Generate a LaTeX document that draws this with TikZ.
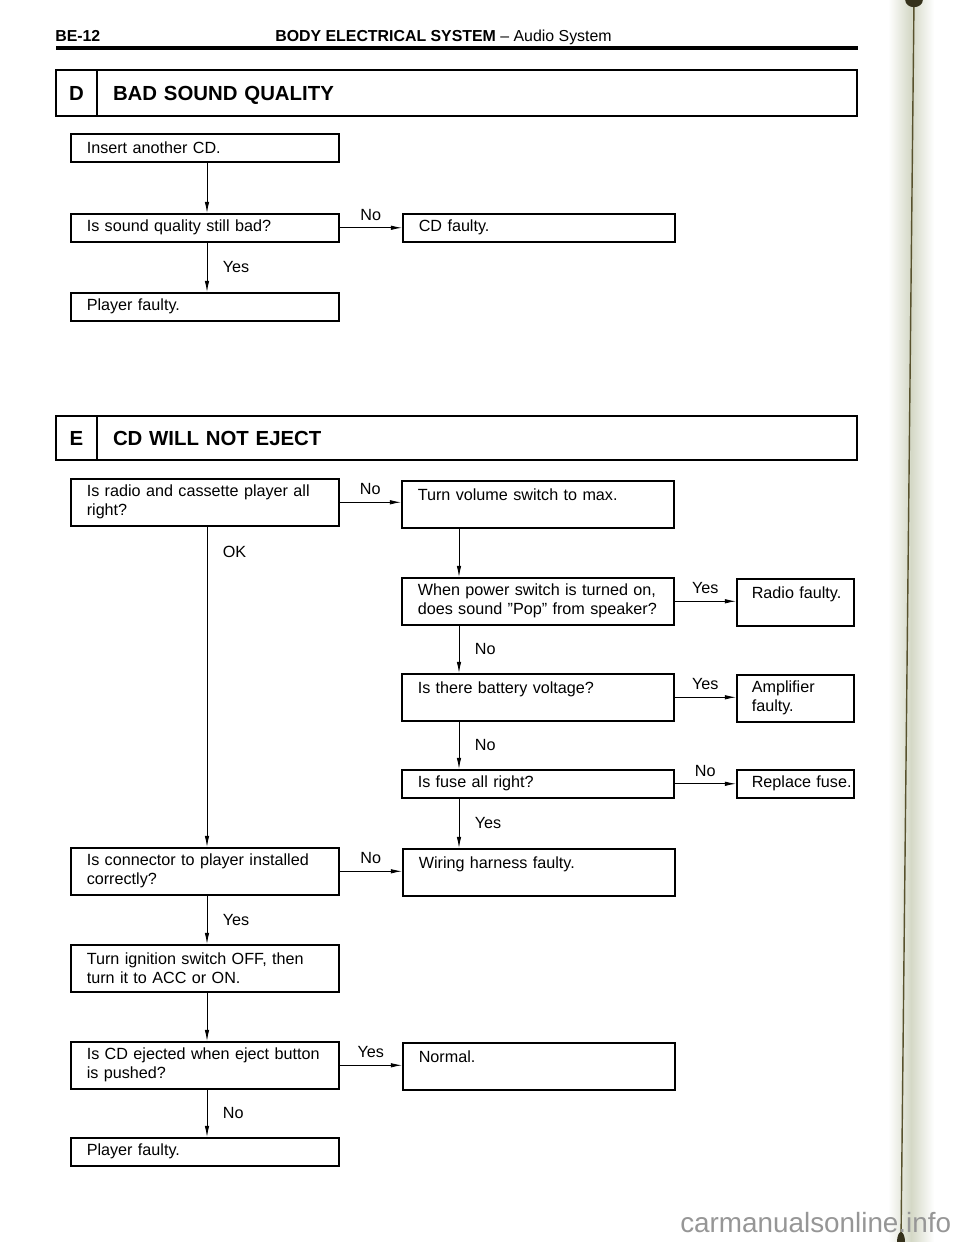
\documentclass[tikz,border=0pt]{standalone}
\usepackage{fontspec}
\setmainfont{Liberation Sans}
\usepackage{tikz}
\usetikzlibrary{arrows.meta, positioning}
\definecolor{fold}{RGB}{212,216,198}
\definecolor{foldline}{RGB}{88,82,45}
\definecolor{wmark}{RGB}{150,150,150}

\begin{document}
\begin{tikzpicture}[
  x=0.025cm, y=-0.025cm,
  box/.style={draw, line width=1.1pt, align=left, inner xsep=0.4cm, anchor=north west, font=\fontsize{11.5}{13.5}\selectfont},
  lbox/.style={box, text width=5.9cm},
  mbox/.style={box, text width=6.0cm},
  rbox/.style={box, inner xsep=0.375cm, text width=2.175cm},
  onerow/.style={minimum height=0.7cm},
  tworow/.style={minimum height=1.175cm},
  cell/.style={draw, line width=1.1pt, outer sep=0pt, minimum height=1.15cm, text height=10.5pt, text depth=0pt, anchor=north west, font=\fontsize{14.5}{17}\selectfont\bfseries},
  titlebar/.style={align=left, inner xsep=0.4cm, text width=18.2cm},
  arr/.style={-{Latex[length=8pt,width=3.2pt]}, line width=0.6pt},
  lbl/.style={font=\fontsize{11.5}{13.5}\selectfont, inner sep=2pt},
  hdr/.style={font=\fontsize{11.3}{13}\selectfont\bfseries, anchor=base west, inner sep=0pt},
  wmk/.style={font=\fontsize{19.8}{22}\selectfont, text=wmark, anchor=base west, inner sep=0pt}
]
\useasboundingbox (0,0) rectangle (960,1242);

% --- page header ---
\node[hdr] (pageno) at (55,42) {BE-12};
\node[hdr] (pagehead) at (275,42) {BODY ELECTRICAL SYSTEM \textmd{-- Audio System}};
\draw[line width=2.2pt] (56,48) -- (858,48);

% --- spines for the vertical connectors ---
\coordinate (lspine) at (207,0);
\coordinate (mspine) at (459,0);

% --- D: bad sound quality ---
\node[cell, minimum width=1.025cm] (dcell) at (56,70) {D};
\node[cell, titlebar] (dtitle) at (dcell.north east) {BAD SOUND QUALITY};

\node[lbox, onerow] (dinsert) at (70,133) {Insert another CD.};
\node[lbox, onerow] (dsound) at (70,213) {Is sound quality still bad?};
\node[mbox, onerow] (dcd) at (402,213) {CD faulty.};
\node[lbox, onerow] (dplayer) at (70,292) {Player faulty.};

\draw[arr] (dinsert.south -| lspine) -- (dsound.north -| lspine);
\draw[arr] (dsound.east) -- node[lbl, above=3pt]{No} (dsound.east -| dcd.west);
\draw[arr] (dsound.south -| lspine) -- node[lbl, right=9pt]{Yes} (dplayer.north -| lspine);

% --- E: CD will not eject ---
\node[cell, minimum width=1.025cm, minimum height=1.1cm] (ecell) at (56,416) {E};
\node[cell, titlebar, minimum height=1.1cm] (etitle) at (ecell.north east) {CD WILL NOT EJECT};

\node[lbox, tworow] (eradio) at (70,478) {Is radio and cassette player all\\right?};
\node[mbox, tworow] (evolume) at (401,480) {Turn volume switch to max.\\\mbox{}};
\node[mbox, tworow] (epower) at (401,577) {When power switch is turned on,\\does sound ''Pop'' from speaker?};
\node[rbox, tworow] (eradiofaulty) at (736,578) {\mbox{Radio faulty.}\\\mbox{}};
\node[mbox, tworow] (ebattery) at (401,673) {Is there battery voltage?\\\mbox{}};
\node[rbox, tworow] (eamp) at (736,674) {Amplifier\\faulty.};
\node[mbox, onerow] (efuse) at (401,769) {Is fuse all right?};
\node[rbox, onerow] (efuseout) at (736,769) {\mbox{Replace fuse.}};
\node[lbox, tworow] (econn) at (70,847) {Is connector to player installed\\correctly?};
\node[mbox, tworow] (ewiring) at (402,848) {Wiring harness faulty.\\\mbox{}};
\node[lbox, tworow] (eignition) at (70,944) {Turn ignition switch OFF, then\\turn it to ACC or ON.};
\node[lbox, tworow] (eeject) at (70,1041) {Is CD ejected when eject button\\is pushed?};
\node[mbox, tworow] (enormal) at (402,1042) {Normal.\\\mbox{}};
\node[lbox, onerow] (eplayer) at (70,1137) {Player faulty.};

% radio / volume branch
\draw[arr] (eradio.east) -- node[lbl, above=3pt]{No} (eradio.east -| evolume.west);
\draw[arr] (evolume.south -| mspine) -- (epower.north -| mspine);
\draw[arr] (epower.east) -- node[lbl, above=3pt]{Yes} (epower.east -| eradiofaulty.west);
\draw[arr] (epower.south -| mspine) -- node[lbl, right=9pt]{No} (ebattery.north -| mspine);
\draw[arr] (ebattery.east) -- node[lbl, above=3pt]{Yes} (ebattery.east -| eamp.west);
\draw[arr] (ebattery.south -| mspine) -- node[lbl, right=9pt]{No} (efuse.north -| mspine);
\draw[arr] (efuse.east) -- node[lbl, above=3pt]{No} (efuse.east -| efuseout.west);
\draw[arr] (efuse.south -| mspine) -- node[lbl, right=9pt]{Yes} (ewiring.north -| mspine);

% player branch
\draw[arr] (eradio.south -| lspine) -- node[lbl, right=9pt, pos=0.08]{OK} (econn.north -| lspine);
\draw[arr] (econn.east) -- node[lbl, above=3pt]{No} (econn.east -| ewiring.west);
\draw[arr] (econn.south -| lspine) -- node[lbl, right=9pt]{Yes} (eignition.north -| lspine);
\draw[arr] (eignition.south -| lspine) -- (eeject.north -| lspine);
\draw[arr] (eeject.east) -- node[lbl, above=3pt]{Yes} (eeject.east -| enormal.west);
\draw[arr] (eeject.south -| lspine) -- node[lbl, right=9pt]{No} (eplayer.north -| lspine);

% --- page fold at the right edge ---
\shade[left color=white, right color=white, middle color=fold] (888,0) rectangle (934,1242);
\draw[foldline, line width=1pt] (914,0) -- (901,1242);
\fill[foldline!60!black] (914,0) ellipse [x radius=0.22cm, y radius=0.18cm];
\fill[foldline!60!black] (901,1242) ellipse [x radius=0.1cm, y radius=0.25cm];

% --- watermark ---
\node[wmk] (watermark) at (680,1232) {carmanualsonline.info};

\end{tikzpicture}
\end{document}
